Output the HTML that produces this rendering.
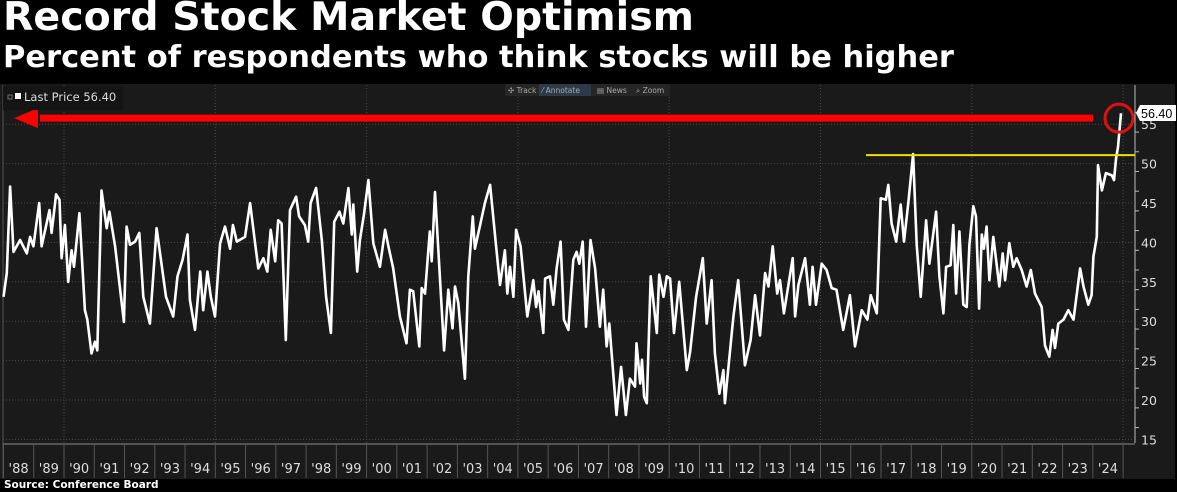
<!DOCTYPE html>
<html><head><meta charset="utf-8"><style>
body{margin:0;background:#000;width:1177px;height:492px;overflow:hidden;font-family:"DejaVu Sans","Liberation Sans",sans-serif}
#title{position:absolute;left:3px;top:-6px;color:#fff;font-weight:bold;font-size:39.5px;white-space:nowrap}
#sub{position:absolute;left:3px;top:40px;color:#fff;font-weight:bold;font-size:30.5px;white-space:nowrap}
#src{position:absolute;left:4px;top:479px;color:#fff;font-weight:bold;font-size:10.5px}
svg{position:absolute;left:0;top:0}
</style></head><body>
<div id="title">Record Stock Market Optimism</div>
<div id="sub">Percent of respondents who think stocks will be higher</div>
<div id="src">Source: Conference Board</div>
<svg id="c" width="1177" height="492"></svg>
<script>
const dates=[1988.0,1988.11,1988.22,1988.33,1988.55,1988.77,1988.88,1988.99,1989.18,1989.26,1989.52,1989.59,1989.74,1989.85,1989.92,1990.03,1990.14,1990.25,1990.33,1990.51,1990.69,1990.77,1990.91,1991.02,1991.10,1991.24,1991.41,1991.50,1991.69,1991.98,1992.07,1992.18,1992.35,1992.49,1992.62,1992.84,1993.06,1993.37,1993.61,1993.75,1993.92,1994.08,1994.16,1994.33,1994.50,1994.60,1994.74,1994.85,1994.99,1995.16,1995.32,1995.49,1995.58,1995.71,1995.98,1996.15,1996.28,1996.42,1996.59,1996.72,1996.83,1996.98,1997.08,1997.19,1997.33,1997.47,1997.67,1997.77,1997.96,1998.07,1998.15,1998.33,1998.52,1998.66,1998.82,1998.93,1999.10,1999.23,1999.40,1999.51,1999.56,1999.69,1999.78,1999.91,2000.06,2000.22,2000.44,2000.61,2000.72,
2000.88,2001.10,2001.32,2001.43,2001.54,2001.74,2001.82,2001.93,2002.09,2002.15,2002.26,2002.56,2002.70,2002.84,2002.92,2003.03,2003.25,2003.36,2003.51,2003.58,2003.75,2003.91,2004.08,2004.28,2004.41,2004.57,2004.65,2004.74,2004.85,2004.94,2005.09,2005.31,2005.51,2005.60,2005.68,2005.84,2005.90,2006.06,2006.17,2006.28,2006.41,2006.52,2006.67,2006.83,2006.94,2007.03,2007.14,2007.25,2007.40,2007.55,2007.71,2007.82,2007.93,2008.02,2008.26,2008.41,2008.57,2008.70,2008.87,2008.92,2009.04,2009.10,2009.17,2009.26,2009.39,2009.59,2009.67,2009.81,2009.92,2010.03,2010.16,2010.33,2010.58,2010.69,2010.89,2011.11,2011.24,2011.40,2011.51,2011.66,2011.79,2011.84,2012.12,2012.28,2012.50,2012.69,2012.84,2013.00,2013.17,2013.28,2013.42,2013.57,2013.66,
2013.79,2014.08,2014.16,2014.27,2014.49,2014.65,2014.74,2014.85,2015.04,2015.20,2015.37,2015.53,2015.75,2015.86,2015.97,2016.14,2016.36,2016.55,2016.66,2016.86,2016.99,2017.16,2017.24,2017.35,2017.50,2017.65,2017.76,2017.90,2018.06,2018.18,2018.31,2018.49,2018.60,2018.82,2018.93,2019.06,2019.15,2019.30,2019.39,2019.48,2019.59,2019.72,2019.83,2019.92,2020.05,2020.14,2020.24,2020.33,2020.40,2020.49,2020.58,2020.71,2020.91,2021.02,2021.10,2021.24,2021.37,2021.48,2021.65,2021.81,2021.95,2022.09,2022.31,2022.42,2022.56,2022.67,2022.75,2022.86,2023.03,2023.19,2023.36,2023.58,2023.69,2023.85,2023.96,2024.02,2024.13,2024.17,2024.30,2024.43,2024.63,2024.70,2024.77,2024.83,2024.93];
const values=[33.1,36.1,47.1,38.8,40.3,38.6,40.7,39.5,45,39.5,44.1,41.2,46.1,45.4,38,42.2,35,39,36.9,43.7,31.4,30.2,25.9,27.4,26.3,46.6,41.8,43.9,39.5,29.9,42,39.7,40.1,41.2,33.1,29.7,41.8,33.1,30.6,35.7,37.8,41,32.7,28.9,36.3,31.4,36.3,33.1,30.6,39.9,42,39.2,42.2,40.1,40.7,45,41,36.7,38,36.3,41.6,37.6,42.8,42.4,27.6,44.1,45.8,43.3,42.2,40.1,45,46.9,40.3,33.1,28.5,42.6,43.9,42.4,46.9,41,44.8,36.3,40.3,43.5,47.9,39.9,36.9,41.6,39.5,
36.7,30.6,27.2,34,33.8,26.8,34.2,33.5,41.4,37.6,46.4,26.3,34,29.1,34.4,32.3,22.7,35.7,43.3,39.2,42.2,45,47.3,39.5,34.6,39,33.5,36.9,33.1,41.6,39.5,30.6,35.2,31.8,33.8,28.5,35.4,35.7,32.1,36.7,40.1,30.2,28.9,37.8,38.8,37.3,40.1,29.3,40.3,36.7,29.3,34,26.8,29.7,18.1,24.2,18.1,22.7,21.7,27.2,22.1,25.1,20.4,19.6,35.7,28.5,35.9,33.1,35.7,35.4,28.5,35,23.8,26.1,33.1,38,29.7,35.2,25.9,20.8,23.8,19.6,30.6,35.2,24.4,27.6,33.3,28.2,36.1,34.4,39.5,33.5,35.2,
31,38,30.6,34.6,38,32.1,36.9,32.1,37.3,36.5,34.2,34,28.9,31,33.3,26.8,31.4,30.2,33.3,31,45.6,45.4,47.3,42.4,40.1,44.8,40.1,45,51.2,39.7,33.1,42.8,37.3,43.9,35.7,31,36.9,37.1,42.2,33.5,41.4,32.1,31.8,39.7,44.6,43.3,31.6,41,39.2,42,35.2,40.7,34.4,38.6,35.2,39.9,36.9,38,36.5,34.4,36.5,33.5,31.8,26.9,25.5,28.9,26.6,29.7,30.2,31.4,30.2,36.7,34.4,32.1,33.3,38.2,40.7,49.8,46.6,48.8,48.5,47.9,50.7,52.1,56.4];
const yTicks=[15,20,25,30,35,40,45,50,55];
const yearLabels=["'88","'89","'90","'91","'92","'93","'94","'95","'96","'97","'98","'99","'00","'01","'02","'03","'04","'05","'06","'07","'08","'09","'10","'11","'12","'13","'14","'15","'16","'17","'18","'19","'20","'21","'22","'23","'24"];
const lastValue=56.40, prevHigh=51.2;
const X=t=>64+(t-1990)*30.26;
const Y=v=>203+(45-v)*7.88;
const S=document.getElementById('c');
const NS='http://www.w3.org/2000/svg';
function mk(tag,attrs,parent){const e=document.createElementNS(NS,tag);for(const k in attrs)e.setAttribute(k,attrs[k]);(parent||S).appendChild(e);return e;}
let e;
e=mk('rect',{x:0,y:84,width:1175,height:395,fill:'#1a1a1a'});


yTicks.forEach(v=>{e=mk('line',{x1:3,x2:1134,y1:Y(v),y2:Y(v),stroke:'#4a4a4a','stroke-dasharray':'1,2'});

});
for(let yr=1990;yr<=2025;yr+=5){e=mk('line',{x1:X(yr),x2:X(yr),y1:85,y2:443,stroke:'#4a4a4a','stroke-dasharray':'1,2'});

}
e=mk('line',{x1:1135,x2:1135,y1:85,y2:443,stroke:'#bbb','stroke-width':1});


for(let v=14;v<=58;v+=2.5){const y=Y(v);if(y<86||y>443)continue;mk('line',{x1:1135,x2:1139,y1:y,y2:y,stroke:'#bbb'});}
yTicks.forEach(v=>{e=mk('text',{x:1141,y:Y(v)+5,fill:'#ddd','font-size':12.5,'font-family':'DejaVu Sans, sans-serif'});e.textContent=v;

});
e=mk('line',{x1:3,x2:1135,y1:444,y2:444,stroke:'#666','stroke-width':1.5});


yearLabels.forEach((lab,i)=>{const yr=1988+i;
mk('line',{x1:X(yr),x2:X(yr),y1:444,y2:478,stroke:'#555'});
e=mk('text',{x:X(yr+0.5),y:473,fill:'#ddd','font-size':13,'text-anchor':'middle','font-family':'DejaVu Sans, sans-serif'});e.textContent=lab;

});
mk('line',{x1:X(2025),x2:X(2025),y1:444,y2:478,stroke:'#555'});
mk('line',{x1:3,x2:3,y1:85,y2:478,stroke:'#555'});
e=mk('polyline',{points:dates.map((d,i)=>X(d).toFixed(1)+','+Y(values[i]).toFixed(1)).join(' '),fill:'none',stroke:'#fff','stroke-width':2.6,'stroke-linejoin':'round'});


e=mk('line',{x1:866,x2:1135,y1:Y(prevHigh)+1,y2:Y(prevHigh)+1,stroke:'#f0e000','stroke-width':2});


const ay=Y(lastValue)+5;
e=mk('line',{x1:40,x2:1093,y1:ay,y2:ay,stroke:'#ff0000','stroke-width':7});


e=mk('polygon',{points:`14,${ay} 38,${ay-10} 38,${ay+10}`,fill:'#ff0000'});


e=mk('circle',{cx:1119,cy:ay,r:14,fill:'none',stroke:'#e01010','stroke-width':3});


e=mk('polygon',{points:`1136,${Y(lastValue)} 1140,105 1176,105 1176,121 1140,121`,fill:'#fff'});


e=mk('text',{x:1141,y:118,fill:'#000','font-size':12.5,'font-family':'Liberation Sans, sans-serif'});e.textContent='56.40';


e=mk('rect',{x:3,y:86,width:120,height:24,fill:'#151515'});


mk('rect',{x:8,y:95,width:4,height:4,fill:'none',stroke:'#888','stroke-width':0.8});
mk('rect',{x:15,y:93,width:6,height:6,fill:'#fff'});
e=mk('text',{x:24,y:101,fill:'#ddd','font-size':11.5,'font-family':'DejaVu Sans, sans-serif'});e.textContent='Last Price 56.40';


e=mk('rect',{x:505,y:84,width:165,height:12,fill:'#262626'});


mk('rect',{x:539,y:84,width:52,height:12,fill:'#2d3a4a'});
[['✣ Track',508],['⁄ Annotate',542],['▤ News',597],['⌕ Zoom',636]].forEach(([t,x])=>{e=mk('text',{x:x,y:93,fill:'#aaa','font-size':7.5,'font-family':'DejaVu Sans, sans-serif'});e.textContent=t;

});
</script>
</body></html>
